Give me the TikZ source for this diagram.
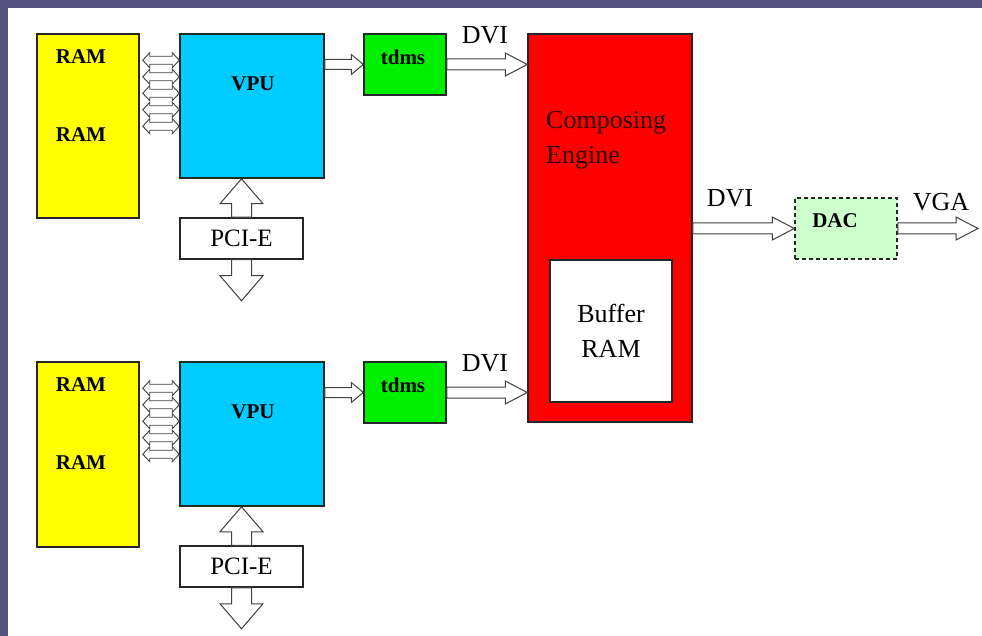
\documentclass[tikz,border=0pt]{standalone}
\usepackage{fontspec}
\setmainfont{Liberation Serif}
\usepackage{xcolor}
\usepackage{tikz}
\usetikzlibrary{positioning, calc}
\definecolor{slideBg}{RGB}{84,81,126}
\definecolor{ramYellow}{RGB}{255,255,0}
\definecolor{vpuCyan}{RGB}{0,204,255}
\definecolor{tdmsGreen}{RGB}{0,240,0}
\definecolor{engineRed}{RGB}{255,0,0}
\definecolor{engineText}{RGB}{45,0,0}
\definecolor{dacMint}{RGB}{204,255,204}
\tikzset{
  block/.style={
    rectangle, draw=black!85, line width=1.5pt, inner sep=0pt
  },
  smalltxt/.style={font=\fontsize{21}{25}\selectfont\bfseries, inner sep=0pt},
  bigtxt/.style={font=\fontsize{26}{35}\selectfont, inner sep=0pt, align=center},
  hollow/.style n args={3}{
    draw=black!75, fill=white, line width=1pt, line join=miter,
    to path={
      ($(\tikztostart)!#1!90:(\tikztotarget)$)
      -- ($(\tikztotarget)!#3!(\tikztostart)!#1!-90:(\tikztostart)$)
      -- ($(\tikztotarget)!#3!(\tikztostart)!#2!-90:(\tikztostart)$)
      -- (\tikztotarget)
      -- ($(\tikztotarget)!#3!(\tikztostart)!#2!90:(\tikztostart)$)
      -- ($(\tikztotarget)!#3!(\tikztostart)!#1!90:(\tikztostart)$)
      -- ($(\tikztostart)!#1!-90:(\tikztotarget)$)
      -- cycle}
  },
  hollowboth/.style n args={3}{
    draw=black!75, fill=white, line width=0.9pt, line join=miter,
    to path={
      (\tikztostart)
      -- ($(\tikztostart)!#3!(\tikztotarget)!#2!90:(\tikztotarget)$)
      -- ($(\tikztostart)!#3!(\tikztotarget)!#1!90:(\tikztotarget)$)
      -- ($(\tikztotarget)!#3!(\tikztostart)!#1!-90:(\tikztostart)$)
      -- ($(\tikztotarget)!#3!(\tikztostart)!#2!-90:(\tikztostart)$)
      -- (\tikztotarget)
      -- ($(\tikztotarget)!#3!(\tikztostart)!#2!90:(\tikztostart)$)
      -- ($(\tikztotarget)!#3!(\tikztostart)!#1!90:(\tikztostart)$)
      -- ($(\tikztostart)!#3!(\tikztotarget)!#1!-90:(\tikztotarget)$)
      -- ($(\tikztostart)!#3!(\tikztotarget)!#2!-90:(\tikztotarget)$)
      -- cycle}
  },
  linkarrow/.style={hollow={5pt}{10pt}{12pt}},
  dviarrow/.style={hollow={5.5pt}{11.5pt}{22pt}},
  pciarrow/.style={hollow={10pt}{21.5pt}{25pt}},
  busarrow/.style={hollowboth={4pt}{7.5pt}{7pt}}
}

\begin{document}
\begin{tikzpicture}[x=1pt, y=-1pt]
\useasboundingbox (0,0) rectangle (982,636);
\fill[slideBg] (0,0) rectangle (982,636);
\fill[white] (8,8) rectangle (982,636);
% upper card
\node[block, fill=ramYellow, minimum width=102, minimum height=184] (ramA) at (88,126) {};
\node[smalltxt] (ramAtop) at (81,57) {RAM};
\node[smalltxt] (ramAbot) at (81,135) {RAM};
\node[block, fill=vpuCyan, minimum width=144, minimum height=144] (vpuA) at (252,106) {};
\node[smalltxt] (vpuAlbl) at (253,84) {VPU};
\node[block, fill=white, minimum width=123, minimum height=41, font=\fontsize{25}{30}\selectfont] (pciA) at (241.5,238.5) {PCI-E};
\node[block, fill=tdmsGreen, minimum width=82, minimum height=61] (tdmsA) at (405,64.5) {};
\node[smalltxt] (tdmsAlbl) at (403,57) {tdms};
% lower card
\node[block, fill=ramYellow, minimum width=102, minimum height=185] (ramB) at (88,454.5) {};
\node[smalltxt] (ramBtop) at (81,385) {RAM};
\node[smalltxt] (ramBbot) at (81,463) {RAM};
\node[block, fill=vpuCyan, minimum width=144, minimum height=144] (vpuB) at (252,434) {};
\node[smalltxt] (vpuBlbl) at (253,412) {VPU};
\node[block, fill=white, minimum width=123, minimum height=41, font=\fontsize{25}{30}\selectfont] (pciB) at (241.5,566.5) {PCI-E};
\node[block, fill=tdmsGreen, minimum width=82, minimum height=61] (tdmsB) at (405,392.5) {};
\node[smalltxt] (tdmsBlbl) at (403,385) {tdms};
% composing engine and output
\node[block, fill=engineRed, minimum width=164, minimum height=388] (engine) at (610,228) {};
\node[bigtxt, text=engineText, align=left, anchor=north west] (engineLbl) at (546,111) {Composing\\Engine};
\node[block, fill=white, bigtxt, minimum width=122, minimum height=142] (buffer) at (611,331) {Buffer\\RAM};
\node[block, fill=dacMint, dash pattern=on 4pt off 3pt, minimum width=102, minimum height=61] (dac) at (846,228.5) {};
\node[smalltxt] (daclbl) at (835,221) {DAC};
\node[bigtxt] (dviA) at (485,35) {DVI};
\node[bigtxt] (dviB) at (485,363) {DVI};
\node[bigtxt] (dviOut) at (730,198) {DVI};
\node[bigtxt] (vga) at (941,202) {VGA};
% buses
\foreach \dy [count=\k] in {27,43.5,60,76.5,93}{
  \coordinate (busA\k) at ([xshift=3,yshift=-\dy]ramA.north east);
  \draw[busarrow] (busA\k) to (busA\k -| vpuA.west);
  \coordinate (busB\k) at ([xshift=3,yshift=-\dy]ramB.north east);
  \draw[busarrow] (busB\k) to (busB\k -| vpuB.west);
}
\draw[linkarrow] (vpuA.east |- tdmsA.west) to (tdmsA.west);
\draw[linkarrow] (vpuB.east |- tdmsB.west) to (tdmsB.west);
\draw[dviarrow] (tdmsA.east) to (engine.west |- tdmsA.east);
\draw[dviarrow] (tdmsB.east) to (engine.west |- tdmsB.east);
\draw[pciarrow] (pciA.north) to (pciA.north |- vpuA.south);
\coordinate (pciAout) at ([yshift=-41]pciA.south);
\draw[pciarrow] (pciA.south) to (pciAout);
\draw[pciarrow] (pciB.north) to (pciB.north |- vpuB.south);
\coordinate (pciBout) at ([yshift=-41]pciB.south);
\draw[pciarrow] (pciB.south) to (pciBout);
\draw[dviarrow] (engine.east |- dac.west) to (dac.west);
\coordinate (vgaOut) at (978,228.5);
\draw[dviarrow] (dac.east) to (vgaOut);
\end{tikzpicture}
\end{document}
